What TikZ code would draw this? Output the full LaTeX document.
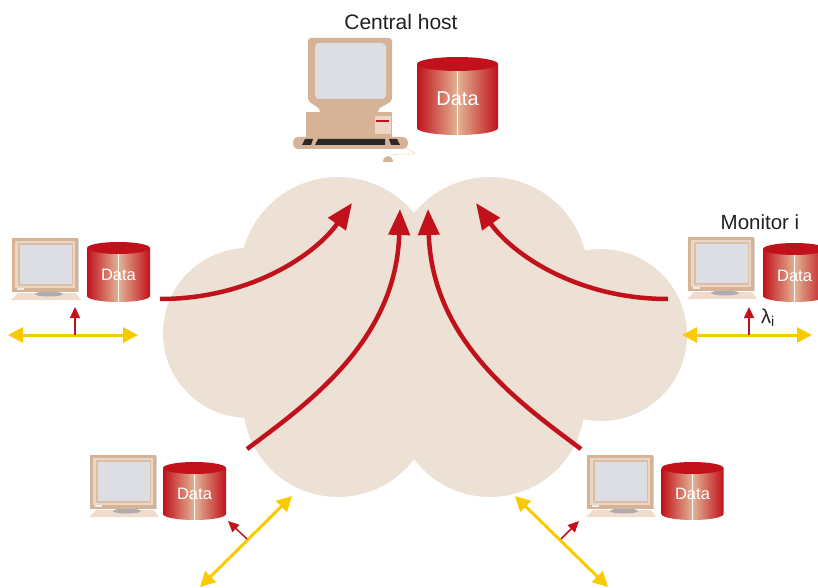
\documentclass[tikz,border=0pt]{standalone}
\usepackage{fontspec}
\setmainfont{Liberation Sans}
\usetikzlibrary{arrows.meta}

\definecolor{nuvola}{RGB}{237,224,212}
\definecolor{rosso}{RGB}{193,18,27}
\definecolor{rossochiaro}{RGB}{226,180,150}
\definecolor{giallo}{RGB}{250,202,0}
\definecolor{beige}{RGB}{214,179,151}
\definecolor{beigechiaro}{RGB}{236,214,196}
\definecolor{schermo}{RGB}{220,222,228}
\definecolor{tasti}{RGB}{45,40,40}
\definecolor{testo}{RGB}{35,31,32}
\definecolor{piastra}{RGB}{241,220,203}
\definecolor{piede}{RGB}{172,172,178}

% Monitor piatto: #1,#2 angolo in alto a sinistra
\newcommand{\monitorpiatto}[2]{%
  \begin{scope}[shift={(#1,#2)}]
    \fill[piastra] (-1,62) -- (6,55) -- (64,55) -- (69,62) -- cycle;
    \fill[piede] (37,56) ellipse[x radius=14pt, y radius=2.5pt];
    \fill[beige] (0,0) rectangle (66,54);
    \fill[beigechiaro] (3,3) rectangle (63,50);
    \fill[beige!85!white] (6,5) rectangle (61,48);
    \fill[schermo] (8,7) rectangle (60,46);
    \draw[piede!50, line width=1pt] (66.5,1) -- (66.5,54);
    \fill[white!85!gray] (5,50) rectangle (12,52);
  \end{scope}}

% Cilindro dei dati: #1 nome, #2 centro x, #3 y alto, #4 y basso,
% #5 semiasse, #6 altezza ellisse, #7 corpo del testo
\newcommand{\disco}[7]{%
  \shade[left color=rosso, right color=rosso, middle color=rossochiaro]
    (#2-#5,#3+#6) -- (#2-#5,#4-#6)
    arc[start angle=180, end angle=360, x radius=#5pt, y radius=#6pt]
    -- (#2+#5,#3+#6) -- cycle;
  \fill[rosso] (#2,#3+#6) ellipse[x radius=#5pt, y radius=#6pt];
  \draw[white!90!rossochiaro, line width=0.7pt] (#2,#3+2*#6) -- (#2,#4);
  \node[dato, font=\fontsize{#7}{#7}\selectfont] (#1) at (#2,{(#3+#4)/2+3}) {Data};}

\begin{document}
\begin{tikzpicture}[x=1pt, y=-1pt,
    dato/.style={text=white, inner sep=0pt},
    etichetta/.style={text=testo, inner sep=0pt},
    flusso/.style={rosso, line width=4.5pt, -{Triangle[length=26pt, width=21pt]}},
    linea/.style={giallo, line width=3pt,
      {Triangle[length=15pt, width=15pt]}-{Triangle[length=15pt, width=15pt]}},
    tasso/.style={rosso, line width=1.5pt, -{Triangle[length=11pt, width=10pt]}}]
    \useasboundingbox (0,0) rectangle (818,588);
    \clip (0,0) rectangle (818,588);

    % Rete (nuvola)
    \fill[nuvola] (338,275) circle (98pt) (490,275) circle (98pt)
        (338,402) circle (95pt) (490,402) circle (95pt)
        (248,333) circle (85pt) (601,335) circle (86pt);
    \fill[nuvola] (300,250) rectangle (530,420);

    % Flussi verso l'host centrale
    \coordinate (inA) at (160,299);  \coordinate (outA) at (352,203);
    \coordinate (inB) at (247,449);  \coordinate (outB) at (400,209);
    \coordinate (inC) at (581,449);  \coordinate (outC) at (428,209);
    \coordinate (inD) at (668,299);  \coordinate (outD) at (476,203);
    \draw[flusso] (inA) .. controls (250,299) and (315,255) .. (outA);
    \draw[flusso] (inB) .. controls (310,402) and (396,340) .. (outB);
    \draw[flusso] (inC) .. controls (518,402) and (432,340) .. (outC);
    \draw[flusso] (inD) .. controls (578,299) and (513,255) .. (outD);

    % Host centrale
    \node[etichetta, font=\fontsize{21}{21}\selectfont] (host) at (401,22) {Central host};
    \fill[beige, rounded corners=3pt] (308,38) -- (392,38) -- (392,101) -- (378,109)
        -- (378,114) -- (320,114) -- (320,109) -- (308,101) -- cycle;
    \fill[schermo, rounded corners=4pt] (315,43) rectangle (386,99);
    \fill[beige] (306,112) rectangle (392,138);
    \fill[beigechiaro] (375,116) rectangle (391,134);
    \draw[rosso, line width=1.2pt] (376,121) -- (389,121);
    \fill[beige, rounded corners=5pt] (293,137) rectangle (408,149);
    \fill[tasti] (302,145) -- (305,139) -- (313,139) -- (311,145) -- cycle;
    \fill[tasti] (315,145) -- (318,139) -- (385,139) -- (385,145) -- cycle;
    \fill[tasti] (389,139) -- (397,139) -- (400,145) -- (391,145) -- cycle;
    \draw[beigechiaro, line width=0.6pt] (390,156) .. controls (398,152) and (412,156) .. (415,153)
        -- (405,148);
    \fill[beige] (383,162) arc[start angle=180, end angle=0, x radius=5pt, y radius=6pt] -- cycle;
    \disco{dataC}{457.5}{57}{135}{40.5}{7}{20}

    % Monitor periferici
    \monitorpiatto{12}{238}
    \disco{dataL}{118.5}{242}{302}{31.5}{6}{16.5}
    \monitorpiatto{688}{237}
    \disco{dataR}{794.5}{243}{302}{31.5}{6}{16.5}
    \node[etichetta, font=\fontsize{20.5}{20.5}\selectfont] (moni) at (760,222) {Monitor i};
    \monitorpiatto{90}{455}
    \disco{dataBL}{194.5}{462}{520}{31.5}{6}{16.5}
    \monitorpiatto{587}{455}
    \disco{dataBR}{692.5}{462}{520}{31}{6}{16.5}

    % Collegamenti locali
    \coordinate (lanLa) at (8,335);    \coordinate (lanLb) at (138,335);
    \coordinate (lanRa) at (682,335);  \coordinate (lanRb) at (812,335);
    \coordinate (lanBLa) at (200,587); \coordinate (lanBLb) at (292,496);
    \coordinate (lanBRa) at (515,496); \coordinate (lanBRb) at (608,587);
    \draw[linea] (lanLa) -- (lanLb);
    \draw[linea] (lanRa) -- (lanRb);
    \draw[linea] (lanBLa) -- (lanBLb);
    \draw[linea] (lanBRa) -- (lanBRb);

    % Tassi di campionamento
    \coordinate (pL) at (75,335);   \coordinate (qL) at (75,307);
    \coordinate (pR) at (749,335);  \coordinate (qR) at (749,307);
    \coordinate (pBL) at (247,539); \coordinate (qBL) at (228,521);
    \coordinate (pBR) at (561,539); \coordinate (qBR) at (579,521);
    \draw[tasso] (pL) -- (qL);
    \draw[tasso] (pR) -- (qR);
    \draw[tasso] (pBL) -- (qBL);
    \draw[tasso] (pBR) -- (qBR);
    \node[etichetta, font=\fontsize{20}{20}\selectfont] (lambda) at (768,318) {λ\textsubscript{i}};
\end{tikzpicture}
\end{document}
